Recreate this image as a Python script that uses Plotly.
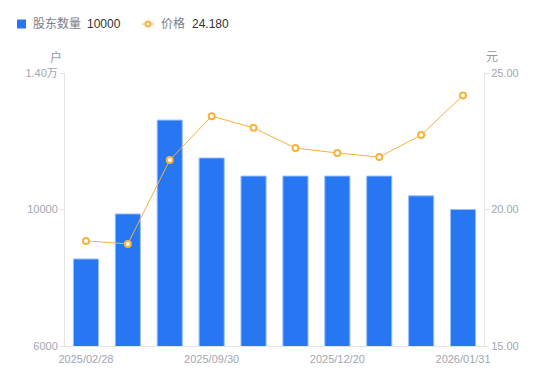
import plotly.graph_objects as go

dates = ["2025/02/28", "2025/03/31", "2025/06/30", "2025/09/30", "2025/10/31",
         "2025/11/30", "2025/12/20", "2025/12/31", "2026/01/20", "2026/01/31"]
holders = [8550, 9870, 12620, 11510, 10980, 10980, 10980, 10980, 10400, 10000]
prices = [18.85, 18.74, 21.81, 23.42, 22.99, 22.25, 22.07, 21.92, 22.73, 24.18]
x_tick_labels = ["2025/02/28", "2025/09/30", "2025/12/20", "2026/01/31"]
left_ticks = [6000, 10000, 14000]
left_tick_text = ["6000", "10000", "1.40万"]
right_ticks = [15, 20, 25]
right_tick_text = ["15.00", "20.00", "25.00"]

FONT = "Liberation Sans, Arial, Noto Sans CJK SC, sans-serif"
TICK = "#a3a6b4"
AXIS = "#e3e3e8"
BLUE = "#2777f2"
ORANGE = "#f8b23c"

fig = go.Figure()
fig.add_trace(go.Bar(
    x=dates, y=holders, name="股东数量",
    marker=dict(color=BLUE, line=dict(color="#9cc0f8", width=1)),
    width=0.6, yaxis="y",
))
fig.add_trace(go.Scatter(
    x=dates, y=prices, name="价格",
    mode="lines+markers", yaxis="y2",
    line=dict(color=ORANGE, width=1),
    marker=dict(symbol="circle", size=6, color="white", line=dict(color=ORANGE, width=2)),
))

W, H, L, R, T, B = 550, 381, 65, 66, 73, 35
pw = W - L - R
ph = H - T - B


def px(xp):
    return (xp - L) / pw


def py(yp):
    return (H - B - yp) / ph


shapes = [
    dict(type="rect", xref="paper", yref="paper", x0=px(17), x1=px(26), y0=py(28.5), y1=py(19.5),
         fillcolor=BLUE, line=dict(width=0)),
    dict(type="line", xref="paper", yref="paper", x0=px(142), x1=px(154), y0=py(24), y1=py(24),
         line=dict(color=ORANGE, width=1)),
    dict(type="circle", xref="paper", yref="paper", x0=px(145.5), x1=px(150.5), y0=py(26.5), y1=py(21.5),
         fillcolor="white", line=dict(color=ORANGE, width=2)),
]

legend_ann = [
    dict(text="股东数量", x=px(31), y=py(24), color="#7a7d88"),
    dict(text="10000", x=px(85), y=py(24), color="#333333"),
    dict(text="价格", x=px(159), y=py(24), color="#7a7d88"),
    dict(text="24.180", x=px(190), y=py(24), color="#333333"),
]
annotations = [
    dict(text=a["text"], xref="paper", yref="paper", x=a["x"], y=a["y"], xanchor="left",
         yanchor="middle", showarrow=False, font=dict(size=12, color=a["color"], family=FONT))
    for a in legend_ann
]
annotations += [
    dict(text="户", xref="paper", yref="paper", x=px(64), y=py(57), xanchor="right",
         yanchor="middle", showarrow=False, font=dict(size=12, color="#999", family=FONT)),
    dict(text="元", xref="paper", yref="paper", x=px(484), y=py(57), xanchor="left",
         yanchor="middle", showarrow=False, font=dict(size=12, color="#999", family=FONT)),
]

fig.update_layout(
    width=W, height=H,
    margin=dict(l=L, r=R, t=T, b=B),
    paper_bgcolor="white", plot_bgcolor="white",
    font=dict(family=FONT, size=11, color=TICK),
    showlegend=False,
    bargap=0.4,
    xaxis=dict(type="category", range=[-0.5, len(dates) - 0.5], tickmode="array",
               tickvals=x_tick_labels, ticktext=x_tick_labels,
               showline=True, linecolor=AXIS, linewidth=1, ticks="", showgrid=False,
               ticklabelstandoff=3,
               automargin=False, tickfont=dict(size=11, color=TICK)),
    yaxis=dict(range=[6000, 14000], tickmode="array", tickvals=left_ticks, ticktext=left_tick_text,
               showline=True, linecolor=AXIS, ticks="outside", ticklen=4, tickcolor=AXIS,
               showgrid=False, zeroline=False, automargin=False, tickfont=dict(size=11, color=TICK)),
    yaxis2=dict(range=[15, 25], overlaying="y", side="right", tickmode="array",
                tickvals=right_ticks, ticktext=right_tick_text,
                showline=True, linecolor=AXIS, ticks="outside", ticklen=4, tickcolor=AXIS,
                showgrid=False, zeroline=False, automargin=False, tickfont=dict(size=11, color=TICK)),
    shapes=shapes,
    annotations=annotations,
)

fig.write_html("out.html", config={"displayModeBar": False},
               post_script="document.body.style.margin='0';")
